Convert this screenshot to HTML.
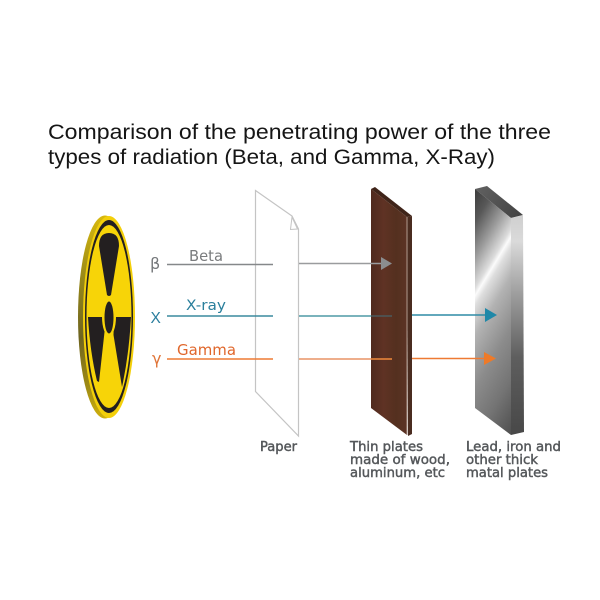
<!DOCTYPE html>
<html><head><meta charset="utf-8">
<style>html,body{margin:0;padding:0;background:#fff}svg{display:block}</style>
</head><body>
<svg width="600" height="600" viewBox="0 0 600 600" xmlns="http://www.w3.org/2000/svg">
<defs>
<linearGradient id="rim" x1="0" y1="0" x2="0" y2="1">
<stop offset="0" stop-color="#d8b90e"/><stop offset=".3" stop-color="#9a8a18"/><stop offset=".6" stop-color="#6e6420"/><stop offset=".85" stop-color="#a08c14"/><stop offset="1" stop-color="#d0b00c"/>
</linearGradient>
<linearGradient id="metal" x1="449" y1="235" x2="582" y2="315.500" gradientUnits="userSpaceOnUse">
<stop offset="0" stop-color="#3e3e3e"/><stop offset=".1" stop-color="#585858"/><stop offset=".22" stop-color="#9c9c9c"/><stop offset=".32" stop-color="#dcdcdc"/><stop offset=".346" stop-color="#fbfbfb"/><stop offset=".38" stop-color="#dedede"/><stop offset=".48" stop-color="#b2b2b2"/><stop offset=".65" stop-color="#8c8c8c"/><stop offset=".82" stop-color="#747474"/><stop offset="1" stop-color="#505050"/>
</linearGradient>
<linearGradient id="metalSide" x1="0" y1="215" x2="0" y2="435" gradientUnits="userSpaceOnUse">
<stop offset="0" stop-color="#cfcfcf"/><stop offset=".12" stop-color="#dadada"/><stop offset=".35" stop-color="#a0a0a0"/><stop offset=".65" stop-color="#5e5e5e"/><stop offset="1" stop-color="#484848"/>
</linearGradient>
<linearGradient id="metalTop" x1="480" y1="190" x2="520" y2="215" gradientUnits="userSpaceOnUse">
<stop offset="0" stop-color="#5e5e5e"/><stop offset="1" stop-color="#444"/>
</linearGradient>
<linearGradient id="wood" x1="371" y1="0" x2="407" y2="0" gradientUnits="userSpaceOnUse">
<stop offset="0" stop-color="#4f2a1e"/><stop offset=".35" stop-color="#5f3224"/><stop offset=".7" stop-color="#54301f"/><stop offset="1" stop-color="#5c3325"/>
</linearGradient>
</defs>

<!-- Title -->
<g font-family="'Liberation Sans',sans-serif" font-size="21" fill="#151515">
<text x="48" y="139" textLength="503" lengthAdjust="spacingAndGlyphs">Comparison of the penetrating power of the three</text>
<text x="48" y="164" textLength="447" lengthAdjust="spacingAndGlyphs">types of radiation (Beta, and Gamma, X-Ray)</text>
</g>

<!-- Radiation sign -->
<ellipse cx="105" cy="317" rx="27" ry="101.500" fill="url(#rim)"/>
<ellipse cx="109" cy="317" rx="26" ry="101" fill="#f3cf0a"/>
<ellipse cx="109" cy="316.500" rx="24" ry="96.500" fill="#231f20"/>
<ellipse cx="109" cy="316.500" rx="22.500" ry="91.500" fill="#f7d408"/>
<g fill="#231f20">
<path d="M99 246 Q99 233 109 233 Q119 233 119 246 L111 295 Q109 297 107 295 Z"/>
<path d="M88 317 L104 317 L104.500 332 L99 382 L97 381 Q90 352 88 317 Z"/>
<path d="M114 317 L131 317 Q129 355 122 387 L113.500 335 Z"/>
</g>
<ellipse cx="109" cy="317" rx="7" ry="19" fill="#f7d408"/>
<ellipse cx="109" cy="317.500" rx="4.500" ry="16" fill="#231f20"/>

<!-- Symbols -->
<text x="150" y="269" font-family="'DejaVu Sans',sans-serif" font-size="16" fill="#75787b">β</text>
<text x="150.500" y="323" font-family="'Liberation Sans',sans-serif" font-size="15.500" fill="#2b7e9e">X</text>
<text x="152" y="364" font-family="'DejaVu Sans',sans-serif" font-size="16" fill="#e0763a">γ</text>

<!-- Left labels -->
<g font-family="'DejaVu Sans',sans-serif">
<text x="189" y="261" font-size="15" textLength="34" lengthAdjust="spacingAndGlyphs" fill="#7a7c7e">Beta</text>
<text x="186" y="310" font-size="14" textLength="40" lengthAdjust="spacingAndGlyphs" fill="#2a7f9c">X-ray</text>
<text x="177" y="355" font-size="15.500" textLength="59" lengthAdjust="spacingAndGlyphs" fill="#e0672c">Gamma</text>
</g>

<!-- Paper -->
<path d="M255.500 190.500 L292 216 L298.500 229 L298.500 436 L255.500 391.500 Z" fill="#fff" stroke="#c4c4c4" stroke-width="1.200"/>
<path d="M292 217 L297.500 229 L290.500 229.500 Z" fill="#fff" stroke="#c4c4c4" stroke-width="1"/>

<!-- Wood -->
<path d="M371 189 L375 187 L412 216 L407 217 Z" fill="#3f2419"/>
<path d="M371 189 L407 217 L407 435 L371 408 Z" fill="url(#wood)"/>
<path d="M407 217 L412 216 L412 434 L408 436 Z" fill="#4a2c20"/>
<path d="M407 217 L407 435" stroke="#b09a8e" stroke-width="1"/>

<!-- Metal -->
<path d="M475 189 L487 186 L523 215 L511 218 Z" fill="url(#metalTop)"/>
<path d="M475 189 L511 218 L511 435 L475 408 Z" fill="url(#metal)"/>
<path d="M511 218 L523 215 L524 432 L511 435 Z" fill="url(#metalSide)"/>

<!-- Rays -->
<g fill="none" stroke-width="1.500">
<path d="M167 264.500 H273" stroke="#85888a"/>
<path d="M299 263.500 H383" stroke="#9a9c9e"/>
<path d="M167 316 H273" stroke="#3a8a9e"/>
<path d="M299 316 H371" stroke="#4f9aa6"/>
<path d="M371 316 H392" stroke="#4b5a5c"/>
<path d="M412 315 H488" stroke="#2f8ca6"/>
<path d="M167 359 H273" stroke="#ee7a33"/>
<path d="M299 359 H371" stroke="#e99466"/>
<path d="M371 359 H392" stroke="#f08a3c"/>
<path d="M412 358.500 H486" stroke="#ee7a33"/>
</g>
<path d="M381 257 L392 263.500 L381 270 Z" fill="#8b8d8f"/>
<path d="M485 308 L497 315 L485 322 Z" fill="#1f88a8"/>
<path d="M484 352 L496 358.500 L484 365 Z" fill="#ee7a28"/>

<!-- Bottom labels -->
<g font-family="'DejaVu Sans',sans-serif" font-size="13" fill="#55585b" stroke="#55585b" stroke-width=".45">
<text x="260" y="451" textLength="37" lengthAdjust="spacingAndGlyphs">Paper</text>
<text x="350" y="451" textLength="73" lengthAdjust="spacingAndGlyphs">Thin plates</text>
<text x="350" y="464" textLength="100" lengthAdjust="spacingAndGlyphs">made of wood,</text>
<text x="350" y="477" textLength="95" lengthAdjust="spacingAndGlyphs">aluminum, etc</text>
<text x="466" y="451" textLength="95" lengthAdjust="spacingAndGlyphs">Lead, iron and</text>
<text x="466" y="464" textLength="72" lengthAdjust="spacingAndGlyphs">other thick</text>
<text x="466" y="477" textLength="82" lengthAdjust="spacingAndGlyphs">matal plates</text>
</g>
</svg>
</body></html>
